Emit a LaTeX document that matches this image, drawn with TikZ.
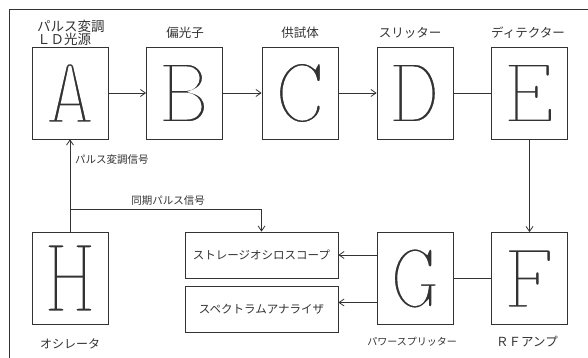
\documentclass[tikz,border=0pt]{standalone}
\usepackage{fontspec}
\usetikzlibrary{arrows.meta,calc}
\newfontfamily\jpfont{Noto Sans CJK JP}
\newfontfamily\bigmono{lmmonolt10-regular.otf}
\definecolor{ln}{HTML}{333333}
\newcommand{\thinltr}[1]{\special{pdf:literal direct 1 1 1 RG 2.4 w 2 Tr}#1\special{pdf:literal direct 0 Tr}}
\begin{document}
\begin{tikzpicture}[x=1pt,y=-1pt,
  ln/.style={draw=ln,line width=0.8pt},
  arr/.style={ln,-{Straight Barb[length=5pt,width=7pt,line width=0.8pt]}},
  bigbox/.style={ln,minimum width=76pt,minimum height=92pt,inner sep=0pt,
     font=\bigmono\fontsize{96}{96}\selectfont,text=ln},
  widebox/.style={ln,minimum width=153pt,minimum height=46pt,inner sep=0pt,
     font=\jpfont\fontsize{11.5}{12}\selectfont,text=ln},
  lbl/.style={inner sep=0pt,font=\jpfont\fontsize{12.5}{13}\selectfont,text=ln},
  slbl/.style={inner sep=0pt,font=\jpfont\fontsize{10.5}{11}\selectfont,text=ln}]
\useasboundingbox (0,0) rectangle (588,358);
\fill[white] (0,0) rectangle (588,358);
% frame
\draw[ln] (9,358) -- (9,9) -- (588,9);
% boxes
\node[bigbox] (A) at (70,93) {\thinltr{A}};
\node[bigbox] (B) at (184.5,93) {\thinltr{B}};
\node[bigbox] (C) at (300,93) {\thinltr{C}};
\node[bigbox] (D) at (415,93) {\thinltr{D}};
\node[bigbox] (E) at (529.5,93) {\thinltr{E}};
\node[bigbox] (H) at (70,278) {\scalebox{1}[1.16]{\thinltr{H}}};
\node[bigbox] (G) at (415,278.5) {\thinltr{G}};
\node[bigbox] (F) at (529.5,278.5) {\thinltr{F}};
\node[widebox] (st) at (261.5,255) {ストレージオシロスコープ};
\node[widebox] (sp) at (261.5,309) {スペクトラムアナライザ};
% labels
\node[lbl,align=left,anchor=south west,font=\jpfont\fontsize{13.5}{13}\selectfont] (lA) at (37,45.5) {パルス変調\\ＬＤ光源};
\node[lbl] (lB) at (185,33) {偏光子};
\node[lbl] (lC) at (300,33) {供試体};
\node[lbl] (lD) at (410,33) {スリッター};
\node[lbl] (lE) at (528,33) {ディテクター};
\node[slbl,anchor=west] (lmod) at (75,160) {パルス変調信号};
\node[slbl] (lsync) at (168,201) {同期パルス信号};
\node[lbl,font=\jpfont\fontsize{12}{12}\selectfont] (lH) at (70,343.5) {オシレータ};
\node[slbl,font=\jpfont\fontsize{10}{11}\selectfont] (lG) at (412,342) {パワースプリッター};
\node[lbl] (lF) at (527,342) {ＲＦアンプ};
% connectors
\draw[arr] (A) -- (B);
\draw[arr] (B) -- (C);
\draw[arr] (C) -- (D);
\draw[ln] (D) -- (E);
\draw[arr] (E) -- (F);
\draw[ln] (F) -- (G);
\draw[arr] (G.west |- st.east) -- (st.east);
\coordinate (g2) at ([yshift=-24pt]G.west);
\draw[arr] (g2) -- (g2 -| sp.east);
\draw[arr] (H) -- (A);
\coordinate (br) at (70,209);
\draw[arr] (br) -| (st.north);
\end{tikzpicture}
\end{document}
